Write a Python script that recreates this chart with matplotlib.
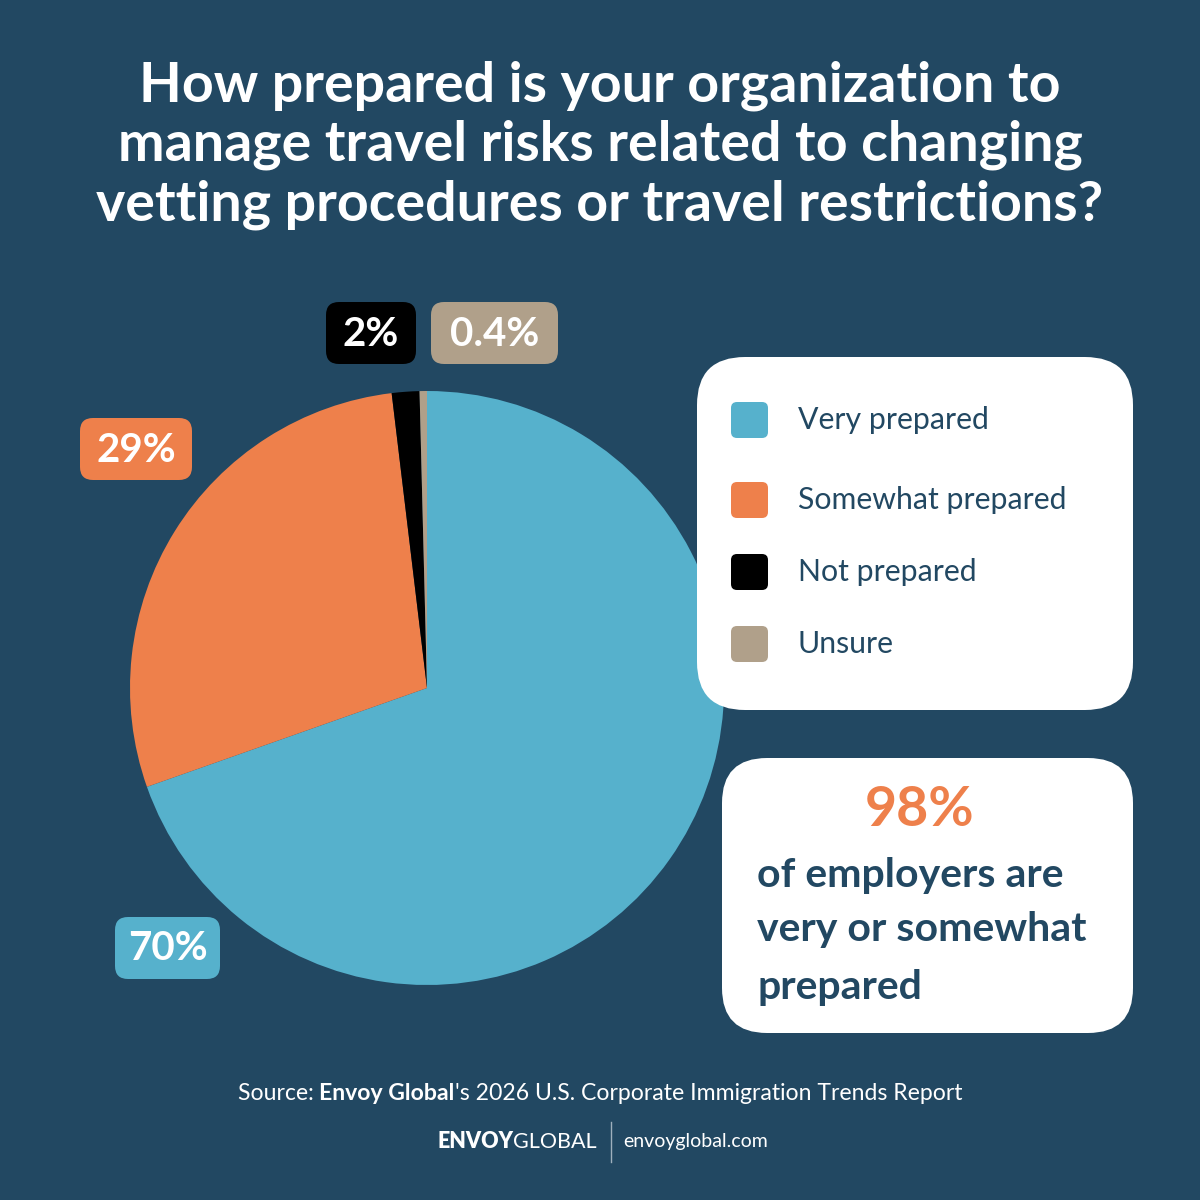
import matplotlib
matplotlib.use("Agg")
import matplotlib.pyplot as plt
from matplotlib.patches import FancyBboxPatch

# data
categories = ["Very prepared", "Somewhat prepared", "Not prepared", "Unsure"]
values = [69.6, 28.5, 1.5, 0.4]
value_labels = ["70%", "29%", "2%", "0.4%"]
colors = ["#56b1cc", "#ee804b", "#000000", "#b0a08a"]

title = ("How prepared is your organization to\n"
         "manage travel risks related to changing\n"
         "vetting procedures or travel restrictions?")
callout_value = "98%"
callout_text = ["of employers are", "very or somewhat", "prepared"]

NAVY = "#224862"
FONT = "Lato"

plt.rcParams["font.family"] = [FONT, "DejaVu Sans"]

fig = plt.figure(figsize=(12, 12), dpi=100)
fig.patch.set_facecolor(NAVY)

# pie axes, placed in pixel terms: center (427, 688), radius 297
cx, cy, r = 427, 688, 297
pax = fig.add_axes([(cx - r) / 1200, 1 - (cy + r) / 1200, 2 * r / 1200, 2 * r / 1200])
pax.pie(values, colors=colors, startangle=90, counterclock=False, radius=1,
        wedgeprops=dict(linewidth=0))
pax.set_xlim(-1, 1)
pax.set_ylim(-1, 1)
pax.set_aspect("equal")
pax.axis("off")

# overlay in pixel coords
ax = fig.add_axes([0, 0, 1, 1])
ax.set_xlim(0, 1200)
ax.set_ylim(1200, 0)
ax.axis("off")
ax.patch.set_alpha(0)


def rbox(x0, y0, x1, y1, color, rad):
    p = FancyBboxPatch((x0 + rad, y0 + rad), x1 - x0 - 2 * rad, y1 - y0 - 2 * rad,
                       boxstyle="round,pad=%d,rounding_size=%d" % (rad, rad),
                       fc=color, ec="none", zorder=2)
    ax.add_patch(p)


ax.text(600, 145, title, ha="center", va="center", color="white",
        fontsize=40, fontweight="bold", linespacing=1.22)

# value label chips
chips = [(115, 917, 220, 979), (80, 418, 192, 480), (326, 302, 416, 364), (431, 302, 558, 364)]
for (x0, y0, x1, y1), lab, col in zip(chips, value_labels, colors):
    rbox(x0, y0, x1, y1, col, 13)
    ax.text((x0 + x1) / 2, (y0 + y1) / 2 + 1, lab, ha="center", va="center",
            color="white", fontsize=29, fontweight="bold", zorder=3)

# legend box
rbox(697, 357, 1133, 710, "white", 48)
for i, (cat, col) in enumerate(zip(categories, colors)):
    y = [420, 500, 572, 644][i]
    rbox(731, y - 18, 768, y + 18, col, 6)
    ax.text(798, y, cat, ha="left", va="center", color=NAVY, fontsize=21.8, zorder=3)

# callout box
rbox(722, 758, 1133, 1033, "white", 45)
ax.text(920, 810, callout_value, ha="center", va="center", color="#ee804b",
        fontsize=40, fontweight="bold", zorder=3)
for y, line in zip([875, 930, 987], callout_text):
    ax.text(757, y, line, ha="left", va="center", color=NAVY, fontsize=29.5,
            fontweight="bold", zorder=3)

# source line, mixed weights, centered as a whole
fig.canvas.draw()
rend = fig.canvas.get_renderer()
parts = [("Source: ", "normal"), ("Envoy Global", "bold"),
         ("'s 2026 U.S. Corporate Immigration Trends Report", "normal")]
texts = []
for s, w in parts:
    t = ax.text(0, 1093, s, ha="left", va="center", color="white", fontsize=16.6,
                fontweight=w)
    texts.append(t)
widths = [t.get_window_extent(rend).width for t in texts]
x = 600 - sum(widths) / 2
for t, w in zip(texts, widths):
    t.set_x(x)
    x += w

# footer logo
t1 = ax.text(0, 1142, "ENVOY", ha="left", va="center", color="white", fontsize=15.5,
             fontweight="heavy")
t2 = ax.text(0, 1142, "GLOBAL", ha="left", va="center", color="white", fontsize=15.5,
             fontweight="normal")
w1 = t1.get_window_extent(rend).width
w2 = t2.get_window_extent(rend).width
t1.set_x(597 - w1 - w2)
t2.set_x(597 - w2)
ax.plot([611, 611], [1122, 1162], color="#9fb0bd", lw=1)
ax.text(623, 1141, "envoyglobal.com", ha="left", va="center", color="white",
        fontsize=14, fontweight="normal")

fig.savefig("out.png", dpi=100, facecolor=NAVY)
